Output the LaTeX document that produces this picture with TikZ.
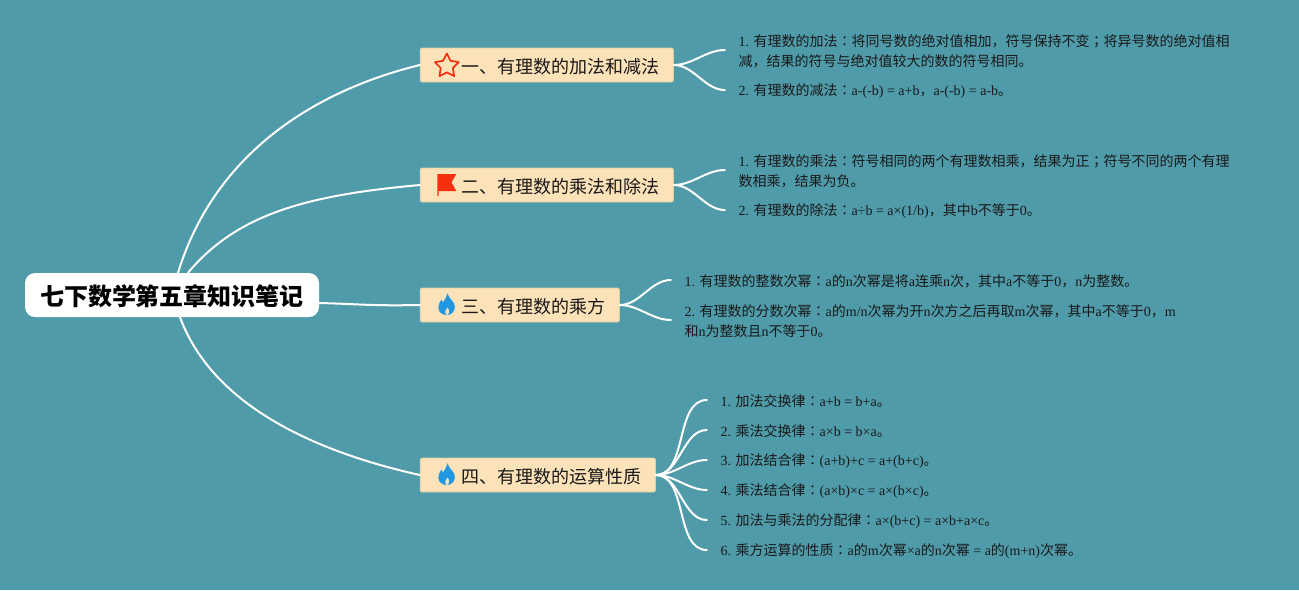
\documentclass[tikz,border=0pt]{standalone}
\usepackage{fontspec}
\usetikzlibrary{positioning,shapes.geometric}
\setmainfont{Liberation Serif}
\newfontfamily\latinfont{Liberation Serif}
\newfontfamily\cjkfont{Noto Sans CJK SC}
\newfontfamily\markfont{Noto Sans CJK TC}
% Chinese text goes to the CJK font, the full-width colon and semicolon to the TC one
\XeTeXinterchartokenstate=1
\newXeTeXintercharclass\cjkclass
\newXeTeXintercharclass\markclass
\count255="3000
\loop\XeTeXcharclass\count255=\cjkclass\ifnum\count255<"303F\advance\count255 by 1\repeat
\count255="4E00
\loop\XeTeXcharclass\count255=\cjkclass\ifnum\count255<"9FFF\advance\count255 by 1\repeat
\XeTeXcharclass"FF0C=\cjkclass
\XeTeXcharclass"FF1A=\markclass
\XeTeXcharclass"FF1B=\markclass
\XeTeXinterchartoks 0 \cjkclass={\cjkfont}
\XeTeXinterchartoks 4095 \cjkclass={\cjkfont}
\XeTeXinterchartoks \cjkclass 0={\latinfont}
\XeTeXinterchartoks \cjkclass 4095={\latinfont}
\XeTeXinterchartoks \cjkclass \markclass={\markfont}
\XeTeXinterchartoks 0 \markclass={\markfont}
\XeTeXinterchartoks 4095 \markclass={\markfont}
\XeTeXinterchartoks \markclass \cjkclass={\cjkfont}
\XeTeXinterchartoks \markclass 0={\latinfont}
\XeTeXinterchartoks \markclass 4095={\latinfont}
\definecolor{bgteal}{HTML}{4F9BA9}
\definecolor{boxtan}{HTML}{FCE2B8}
\definecolor{boxedge}{HTML}{D8D3A6}
\definecolor{markred}{HTML}{F5300F}
\definecolor{markblue}{HTML}{1F97E2}
\tikzset{
  rootbox/.style={fill=white,rounded corners=10pt,minimum width=294pt,minimum height=44pt,inner sep=0pt,
    text height=21pt,text depth=0pt,font=\fontsize{24}{28}\selectfont\bfseries},
  branchbox/.style={fill=boxtan,draw=boxedge,line width=0.8pt,rounded corners=2pt,minimum height=34pt,
    inner xsep=14pt,inner ysep=0pt,anchor=west,text=black!90,text height=16pt,text depth=0pt,
    font=\fontsize{18}{22}\selectfont,execute at begin node=\hspace*{27.2pt}},
  leafbox/.style={inner xsep=13.5pt,inner ysep=0pt,align=left,text=black!90,font=\fontsize{14}{20}\selectfont},
  link/.style={draw=white,line width=2pt,line cap=round},
  leaflink/.style={to path={(\tikztostart.east) to[out=0,in=180,looseness=0.9] ([yshift=1.5pt]\tikztotarget.west)}},
  starmark/.style={star,star points=5,star point ratio=1.95,draw=markred,line width=1.7pt,fill=boxtan,
    line join=round,minimum size=25pt,inner sep=0pt},
  flagmark/.pic={
    \fill[markred] (-9.5,-11) -- (9.5,-11) -- (4.7,-2.5) -- (9.5,6) -- (-8.2,6) -- (-8.2,11) -- (-9.5,11) -- cycle;
  },
  flamemark/.pic={
    \fill[markblue] (1,-11) .. controls (1.5,-7) and (3.5,-6) .. (5.5,-3) .. controls (8.5,0) and (9,5) .. (6,8.5)
      .. controls (4,10.5) and (2,11) .. (0,11) .. controls (-4,11) and (-8.5,8.5) .. (-8.5,3.5)
      .. controls (-8.5,0) and (-6.5,-2) .. (-5.5,-4.5) .. controls (-4.8,-3) and (-4.5,-2.5) .. (-3.8,-1.5)
      .. controls (-2,-4) and (-0.5,-7) .. (1,-11) -- cycle;
    \fill[boxtan] (0.8,3.5) .. controls (1.8,5) and (2.5,6.5) .. (2.2,8) .. controls (2,9.5) and (1.2,11) .. (0.3,11)
      .. controls (-0.8,11) and (-1.6,9.5) .. (-1.6,8) .. controls (-1.6,6.5) and (0,5) .. (0.8,3.5) -- cycle;
  }
}
\begin{document}
\begin{tikzpicture}[x=1pt,y=-1pt]
  \fill[bgteal] (0,0) rectangle (1299,590);
  \useasboundingbox (0,0) rectangle (1299,590);

  \node[rootbox] (root) at (172,295) {七下数学第五章知识笔记};

  \node[branchbox] (b1) at (419.8,65) {一、有理数的加法和减法};
  \node[branchbox] (b2) at (419.8,185) {二、有理数的乘法和除法};
  \node[branchbox] (b3) at (419.8,305) {三、有理数的乘方};
  \node[branchbox] (b4) at (419.8,475) {四、有理数的运算性质};

  \node[starmark] (mark1) at ([shift={(27,1)}]b1.west) {};
  \pic at ([xshift=27pt]b2.west) {flagmark};
  \pic at ([xshift=27pt,yshift=1pt]b3.west) {flamemark};
  \pic at ([xshift=27pt,yshift=1pt]b4.west) {flamemark};

  \node[leafbox,right=51pt of b1,yshift=13.5pt] (l11) {1. 有理数的加法：将同号数的绝对值相加，符号保持不变；将异号数的绝对值相\\减，结果的符号与绝对值较大的数的符号相同。};
  \node[leafbox,right=51pt of b1,yshift=-26.5pt] (l12) {2. 有理数的减法：a-(-b) = a+b，a-(-b) = a-b。};

  \node[leafbox,right=51pt of b2,yshift=13.5pt] (l21) {1. 有理数的乘法：符号相同的两个有理数相乘，结果为正；符号不同的两个有理\\数相乘，结果为负。};
  \node[leafbox,right=51pt of b2,yshift=-26.5pt] (l22) {2. 有理数的除法：a÷b = a×(1/b)，其中b不等于0。};

  \node[leafbox,right=51pt of b3,yshift=23.5pt] (l31) {1. 有理数的整数次幂：a的n次幂是将a连乘n次，其中a不等于0，n为整数。};
  \node[leafbox,right=51pt of b3,yshift=-16.5pt] (l32) {2. 有理数的分数次幂：a的m/n次幂为开n次方之后再取m次幂，其中a不等于0，m\\和n为整数且n不等于0。};

  \node[leafbox,right=51pt of b4,yshift=73.5pt] (l41) {1. 加法交换律：a+b = b+a。};
  \node[leafbox,right=51pt of b4,yshift=43.5pt] (l42) {2. 乘法交换律：a×b = b×a。};
  \node[leafbox,right=51pt of b4,yshift=13.5pt] (l43) {3. 加法结合律：(a+b)+c = a+(b+c)。};
  \node[leafbox,right=51pt of b4,yshift=-16.5pt] (l44) {4. 乘法结合律：(a×b)×c = a×(b×c)。};
  \node[leafbox,right=51pt of b4,yshift=-46.5pt] (l45) {5. 加法与乘法的分配律：a×(b+c) = a×b+a×c。};
  \node[leafbox,right=51pt of b4,yshift=-76.5pt] (l46) {6. 乘方运算的性质：a的m次幂×a的n次幂 = a的(m+n)次幂。};

  \draw[link] ([xshift=6pt]root.north) .. controls +(40,-130) and +(-90,22) .. (b1.west);
  \draw[link] ([xshift=16pt]root.north) .. controls +(50,-60) and +(-110,10) .. (b2.west);
  \draw[link] (root.east |- 0,303) .. controls +(40,1) and +(-50,1) .. (b3.west);
  \draw[link] ([xshift=8pt]root.south) .. controls +(35,95) and +(-90,-20) .. (b4.west);

  \path[link] (b1) edge[leaflink] (l11)
              (b1) edge[leaflink] (l12)
              (b2) edge[leaflink] (l21)
              (b2) edge[leaflink] (l22)
              (b3) edge[leaflink] (l31)
              (b3) edge[leaflink] (l32)
              (b4) edge[leaflink] (l41)
              (b4) edge[leaflink] (l42)
              (b4) edge[leaflink] (l43)
              (b4) edge[leaflink] (l44)
              (b4) edge[leaflink] (l45)
              (b4) edge[leaflink] (l46);
\end{tikzpicture}
\end{document}
